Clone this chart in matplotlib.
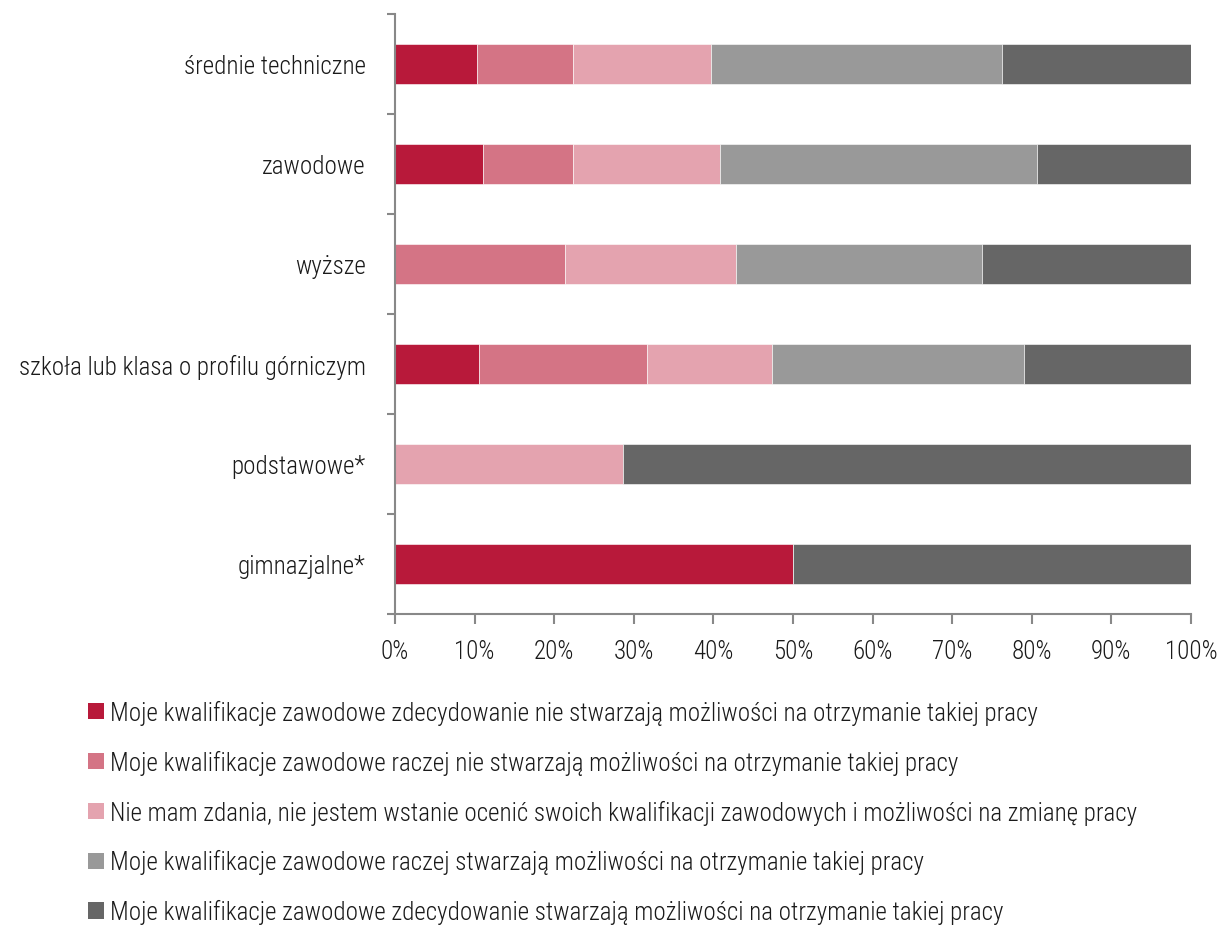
import matplotlib
matplotlib.use("Agg")
import matplotlib.pyplot as plt
from matplotlib import font_manager
from matplotlib.patches import Patch
import numpy as np

# Pick a narrow sans family if available
available = {f.name for f in font_manager.fontManager.ttflist}
family = None
for cand in ["Roboto Condensed", "Liberation Sans Narrow", "Roboto", "DejaVu Sans"]:
    if cand in available:
        family = cand
        break
plt.rcParams["font.family"] = [family, "DejaVu Sans"]
plt.rcParams["font.weight"] = "light"

categories = [
    "średnie techniczne",
    "zawodowe",
    "wyższe",
    "szkoła lub klasa o profilu górniczym",
    "podstawowe*",
    "gimnazjalne*",
]

series_labels = [
    "Moje kwalifikacje zawodowe zdecydowanie nie stwarzają możliwości na otrzymanie takiej pracy",
    "Moje kwalifikacje zawodowe raczej nie stwarzają możliwości na otrzymanie takiej pracy",
    "Nie mam zdania, nie jestem wstanie ocenić swoich kwalifikacji zawodowych i możliwości na zmianę pracy",
    "Moje kwalifikacje zawodowe raczej stwarzają możliwości na otrzymanie takiej pracy",
    "Moje kwalifikacje zawodowe zdecydowanie stwarzają możliwości na otrzymanie takiej pracy",
]

zdecydowanie_nie = [10.3, 11.1, 0.0, 10.5, 0.0, 50.0]
raczej_nie = [12.0, 11.2, 21.4, 21.1, 0.0, 0.0]
nie_mam_zdania = [17.4, 18.5, 21.4, 15.8, 28.6, 0.0]
raczej_tak = [36.5, 39.8, 31.0, 31.6, 0.0, 0.0]
zdecydowanie_tak = [23.8, 19.4, 26.2, 21.0, 71.4, 50.0]

series = [zdecydowanie_nie, raczej_nie, nie_mam_zdania, raczej_tak, zdecydowanie_tak]
colors = ["#B8193A", "#D47485", "#E4A3AF", "#999999", "#666666"]

x_ticks = np.arange(0, 101, 10)
x_tick_labels = [f"{v}%" for v in x_ticks]

fig = plt.figure(figsize=(12.22, 9.28), dpi=100)
ax = fig.add_axes([395 / 1222, 1 - 615 / 928, (1191 - 395) / 1222, 600 / 928])

y = np.arange(len(categories))
left = np.zeros(len(categories))
for vals, col in zip(series, colors):
    vals = np.array(vals)
    ax.barh(y, vals, left=left, height=0.4, color=col, edgecolor="white", linewidth=0.4)
    left += vals

ax.set_xlim(0, 100)
ax.set_ylim(len(categories) - 0.5, -0.5)

ax.set_xticks(x_ticks)
ax.set_xticklabels(x_tick_labels, fontsize=18, color="#1a1a1a")
ax.set_yticks(y)
ax.set_yticklabels(categories, fontsize=18, color="#1a1a1a")
ax.set_yticks(np.arange(-0.5, len(categories) + 0.5, 1), minor=True)

ax.tick_params(axis="y", which="major", length=0, pad=21)
ax.tick_params(axis="y", which="minor", length=6, width=1.5, color="#888888", direction="out")
ax.tick_params(axis="x", which="major", length=7, width=1.5, color="#888888", direction="out", pad=11)

for s in ["top", "right"]:
    ax.spines[s].set_visible(False)
for s in ["left", "bottom"]:
    ax.spines[s].set_color("#888888")
    ax.spines[s].set_linewidth(1.5)

handles = [Patch(facecolor=c, edgecolor="none") for c in colors]
fig.legend(handles, series_labels, loc="upper left", bbox_to_anchor=(78 / 1222, 1 - 691 / 928),
           frameon=False, fontsize=18, handlelength=0.62, handleheight=0.62,
           handletextpad=0.25, labelspacing=0.99, borderaxespad=0, labelcolor="#1a1a1a")

fig.savefig("out.png", dpi=100)
